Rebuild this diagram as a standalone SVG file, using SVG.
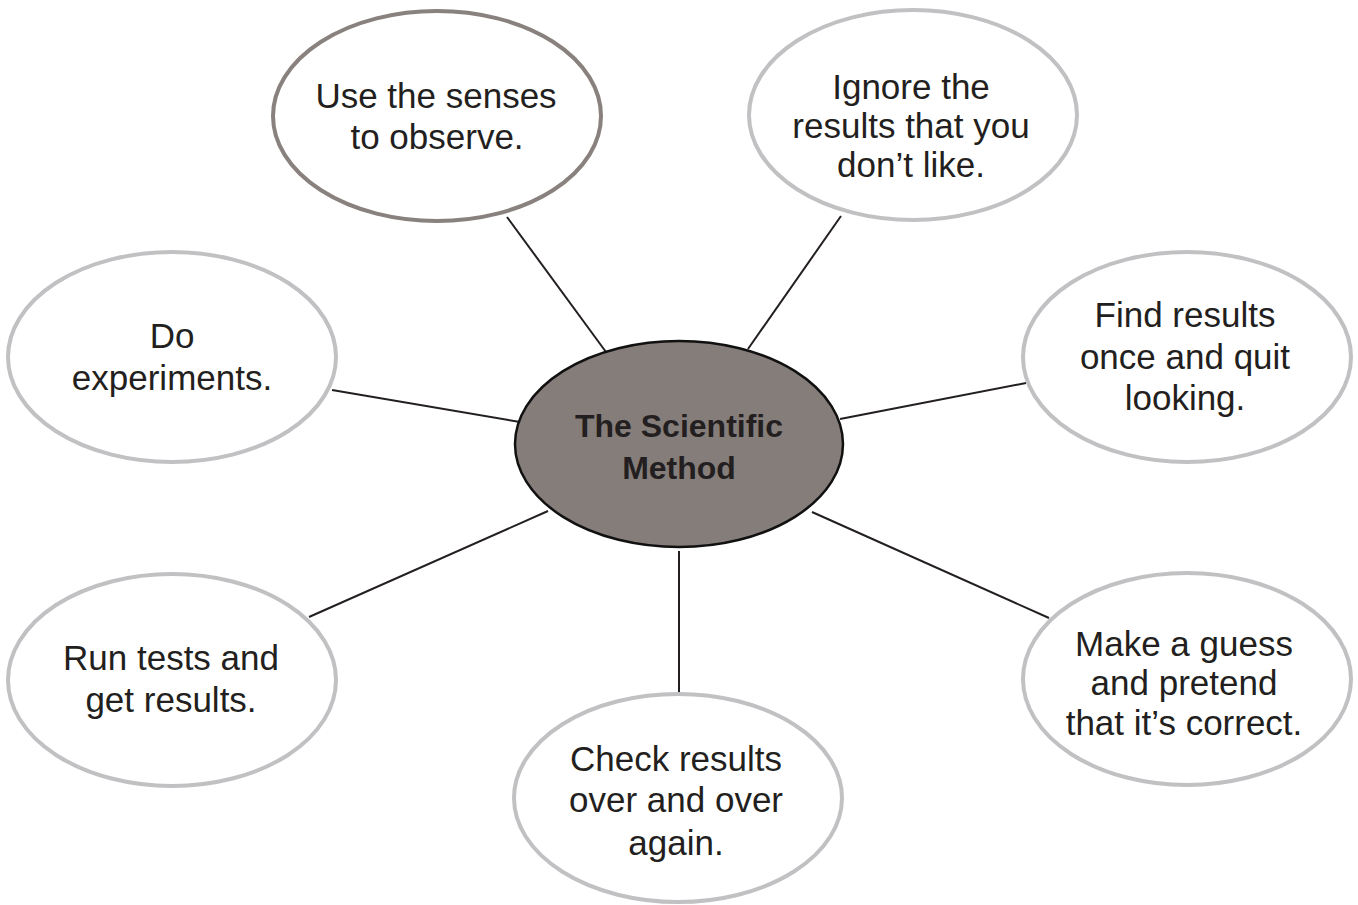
<svg xmlns="http://www.w3.org/2000/svg" width="1358" height="905" viewBox="0 0 1358 905">
<style>
.bub{fill:#ffffff;stroke:#c1c1c3;stroke-width:4}
.bub.dark{stroke:#88817d}
.hub{fill:#857d7a;stroke:#111111;stroke-width:2.5}
.lbl{font-family:"Liberation Sans",Arial,sans-serif;font-size:35px;fill:#231f20;text-anchor:middle}
.ttl{font-family:"Liberation Sans",Arial,sans-serif;font-size:32px;font-weight:bold;fill:#231f20;text-anchor:middle}
#connectors line{stroke:#231f20;stroke-width:2}
</style>
<rect width="1358" height="905" fill="#ffffff"/>
<g id="connectors">
<line x1="507" y1="217" x2="606" y2="352"/>
<line x1="841" y1="216" x2="748" y2="349"/>
<line x1="332" y1="390" x2="520" y2="422"/>
<line x1="1026" y1="383" x2="840" y2="419"/>
<line x1="309" y1="617" x2="548" y2="511"/>
<line x1="1049" y1="618" x2="812" y2="512"/>
<line x1="679" y1="551" x2="679" y2="693"/>
</g>
<g id="hub">
<ellipse class="hub" cx="679" cy="444" rx="164" ry="103"/>
<text class="ttl" x="679" y="437">The Scientific</text>
<text class="ttl" x="679" y="479">Method</text>
</g>
<g id="node-senses">
<ellipse class="bub dark" cx="437" cy="116" rx="164" ry="105"/>
<text class="lbl" x="436" y="108">Use the senses</text>
<text class="lbl" x="437" y="149">to observe.</text>
</g>
<g id="node-ignore">
<ellipse class="bub" cx="913" cy="115" rx="164" ry="105"/>
<text class="lbl" x="911" y="99">Ignore the</text>
<text class="lbl" x="911" y="138">results that you</text>
<text class="lbl" x="911" y="177">don’t like.</text>
</g>
<g id="node-experiments">
<ellipse class="bub" cx="172" cy="357" rx="164" ry="105"/>
<text class="lbl" x="172" y="348">Do</text>
<text class="lbl" x="172" y="390">experiments.</text>
</g>
<g id="node-find">
<ellipse class="bub" cx="1187" cy="357" rx="164" ry="105"/>
<text class="lbl" x="1185" y="327">Find results</text>
<text class="lbl" x="1185" y="369">once and quit</text>
<text class="lbl" x="1185" y="410">looking.</text>
</g>
<g id="node-tests">
<ellipse class="bub" cx="172" cy="680" rx="164" ry="106"/>
<text class="lbl" x="171" y="670">Run tests and</text>
<text class="lbl" x="171" y="712">get results.</text>
</g>
<g id="node-guess">
<ellipse class="bub" cx="1187" cy="679" rx="164" ry="106"/>
<text class="lbl" x="1184" y="656">Make a guess</text>
<text class="lbl" x="1184" y="695">and pretend</text>
<text class="lbl" x="1184" y="735">that it’s correct.</text>
</g>
<g id="node-check">
<ellipse class="bub" cx="678" cy="798" rx="164" ry="104"/>
<text class="lbl" x="676" y="771">Check results</text>
<text class="lbl" x="676" y="812">over and over</text>
<text class="lbl" x="676" y="855">again.</text>
</g>
</svg>
